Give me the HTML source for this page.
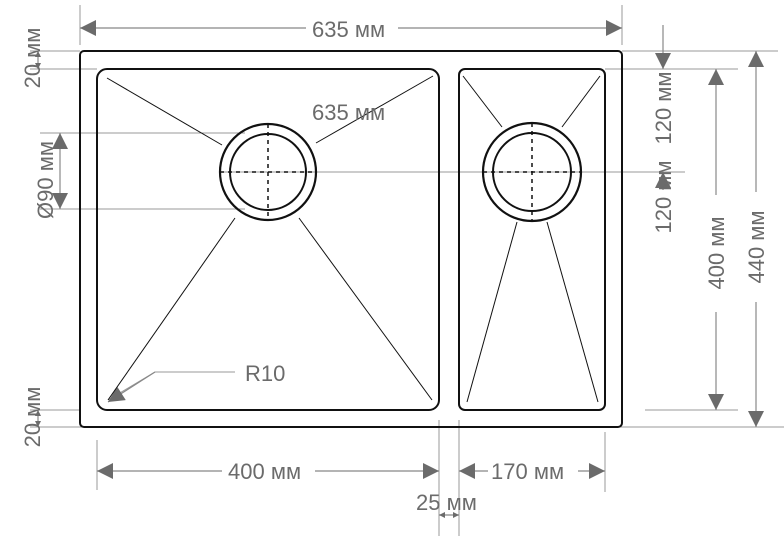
<!DOCTYPE html>
<html><head><meta charset="utf-8"><style>html,body{margin:0;padding:0;background:#fff}svg{display:block}</style></head><body>
<svg width="784" height="536" viewBox="0 0 784 536" xmlns="http://www.w3.org/2000/svg" font-family="Liberation Sans, sans-serif" font-size="22" fill="#6b6b6b">
<defs>
<marker id="a" viewBox="0 0 10 10" refX="10" refY="5" markerWidth="6" markerHeight="6" orient="auto-start-reverse" markerUnits="userSpaceOnUse"><path d="M0,0L10,5L0,10z" fill="#6b6b6b"/></marker>
<marker id="b" viewBox="0 0 10 10" refX="10" refY="5" markerWidth="18" markerHeight="16" orient="auto-start-reverse" markerUnits="userSpaceOnUse"><path d="M0,0L10,5L0,10z" fill="#6b6b6b"/></marker>
</defs>
<g stroke="#999" stroke-width="1" fill="none">
<line x1="80" y1="5" x2="80" y2="45"/><line x1="622" y1="5" x2="622" y2="45"/>
<line x1="30" y1="51" x2="80" y2="51"/><line x1="30" y1="69" x2="97" y2="69"/>
<line x1="40" y1="133" x2="245" y2="133"/><line x1="40" y1="209" x2="245" y2="209"/>
<line x1="220" y1="172" x2="685" y2="172"/>
<line x1="622" y1="51" x2="778" y2="51"/><line x1="605" y1="69" x2="738" y2="69"/>
<line x1="645" y1="410" x2="738" y2="410"/><line x1="30" y1="410" x2="80" y2="410"/>
<line x1="30" y1="427" x2="784" y2="427"/>
<line x1="97" y1="440" x2="97" y2="490"/><line x1="439" y1="420" x2="439" y2="536"/>
<line x1="459" y1="420" x2="459" y2="536"/><line x1="605" y1="432" x2="605" y2="492"/>
<polyline points="108,400 155,372 235,372"/>
</g>
<g stroke="#888" stroke-width="1.2" fill="none">
<line x1="80" y1="28" x2="306" y2="28" marker-start="url(#b)"/><line x1="398" y1="28" x2="622" y2="28" marker-end="url(#b)"/>
<line x1="60" y1="133" x2="60" y2="209" marker-start="url(#b)" marker-end="url(#b)"/>
<line x1="38" y1="51" x2="38" y2="69" marker-start="url(#a)" marker-end="url(#a)"/>
<line x1="38" y1="410" x2="38" y2="427" marker-start="url(#a)" marker-end="url(#a)"/>
<line x1="663" y1="25" x2="663" y2="69" marker-end="url(#b)"/>
<line x1="663" y1="190" x2="663" y2="172" marker-end="url(#b)"/>
<line x1="716" y1="195" x2="716" y2="69" marker-end="url(#b)"/><line x1="716" y1="312" x2="716" y2="410" marker-end="url(#b)"/>
<line x1="756" y1="192" x2="756" y2="51" marker-end="url(#b)"/><line x1="756" y1="302" x2="756" y2="427" marker-end="url(#b)"/>
<line x1="97" y1="471" x2="222" y2="471" marker-start="url(#b)"/><line x1="315" y1="471" x2="439" y2="471" marker-end="url(#b)"/>
<line x1="459" y1="471" x2="488" y2="471" marker-start="url(#b)"/><line x1="578" y1="471" x2="605" y2="471" marker-end="url(#b)"/>
<line x1="439" y1="515" x2="459" y2="515" marker-start="url(#a)" marker-end="url(#a)"/>
<line x1="155" y1="372" x2="108" y2="402" marker-end="url(#b)"/>
</g>
<g stroke="#111" fill="none">
<rect x="80" y="51" width="542" height="376" rx="4" stroke-width="2"/>
<rect x="97" y="69" width="342" height="341" rx="10" stroke-width="2"/>
<rect x="459" y="69" width="146" height="341" rx="6" stroke-width="2"/>
<circle cx="268" cy="172" r="48" stroke-width="2.2"/><circle cx="268" cy="172" r="38" stroke-width="2"/>
<circle cx="532" cy="172" r="49" stroke-width="2.2"/><circle cx="532" cy="172" r="39" stroke-width="2"/>
<g stroke-width="1.5" stroke-dasharray="4,4"><line x1="220" y1="172" x2="316" y2="172"/><line x1="268" y1="124" x2="268" y2="220"/><line x1="483" y1="172" x2="581" y2="172"/><line x1="532" y1="123" x2="532" y2="221"/></g>
<g stroke-width="1"><line x1="107" y1="78" x2="222" y2="145"/><line x1="316" y1="143" x2="433" y2="76"/>
<line x1="235" y1="218" x2="108" y2="400"/><line x1="299" y1="218" x2="432" y2="400"/>
<line x1="463" y1="76" x2="502" y2="127"/><line x1="600" y1="76" x2="562" y2="127"/>
<line x1="517" y1="222" x2="467" y2="402"/><line x1="547" y1="222" x2="598" y2="402"/></g>
</g>
<g fill="#6b6b6b">
<text x="312" y="37">635 мм</text>
<text x="312" y="120">635 мм</text>
<text x="245" y="381">R10</text>
<text x="228" y="479">400 мм</text>
<text x="491" y="479">170 мм</text>
<text x="416" y="510">25 мм</text>
<text transform="translate(53,180) rotate(-90)" text-anchor="middle">Ø90 мм</text>
<text transform="translate(40,58) rotate(-90)" text-anchor="middle">20 мм</text>
<text transform="translate(40,417) rotate(-90)" text-anchor="middle">20 мм</text>
<text transform="translate(671,108) rotate(-90)" text-anchor="middle">120 мм</text>
<text transform="translate(671,197) rotate(-90)" text-anchor="middle">120 мм</text>
<text transform="translate(724,253) rotate(-90)" text-anchor="middle">400 мм</text>
<text transform="translate(764,247) rotate(-90)" text-anchor="middle">440 мм</text>
</g>
</svg>
</body></html>
